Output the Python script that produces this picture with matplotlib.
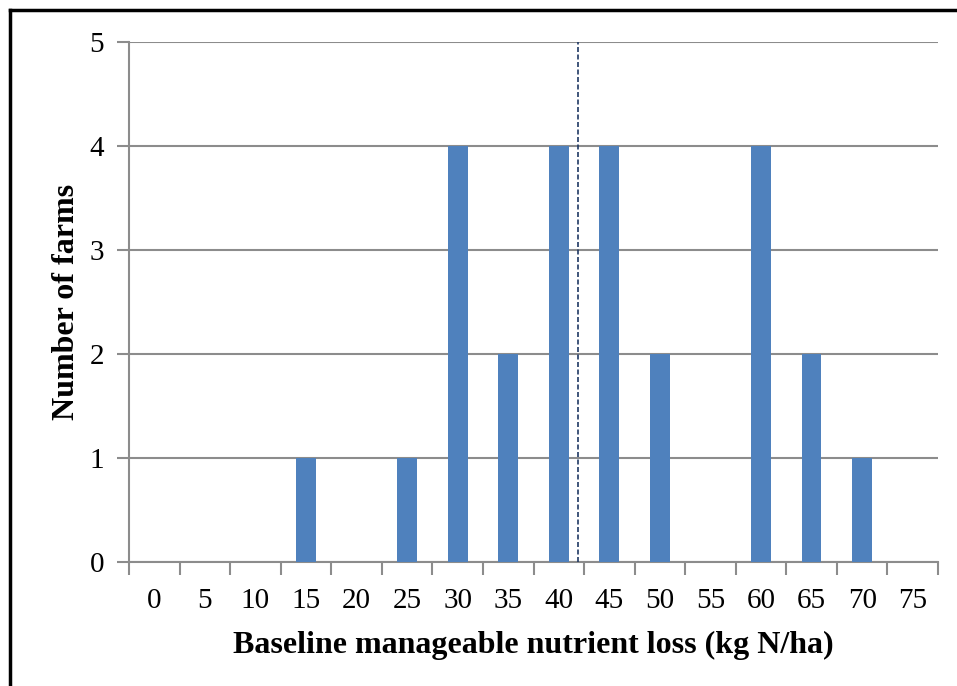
import matplotlib
matplotlib.use("Agg")
import matplotlib.pyplot as plt
from matplotlib.lines import Line2D
import numpy as np

# farm counts per 5 kg N/ha class
loss_classes = [0, 5, 10, 15, 20, 25, 30, 35, 40, 45, 50, 55, 60, 65, 70, 75]
farm_counts = [0, 0, 0, 1, 0, 1, 4, 2, 4, 4, 2, 0, 4, 2, 1, 0]
mean_loss = 41.9  # average baseline loss, shown as dashed line

plt.rcParams['font.family'] = ['Liberation Serif', 'DejaVu Serif']

fig = plt.figure(figsize=(9.57, 6.86), dpi=100)
ax = fig.add_axes([129/957, 1-562/686, (938-129)/957, (562-42)/686])

grid_col = '#8c8c8c'
x = np.arange(len(loss_classes))
ax.bar(x, farm_counts, width=0.39, color='#4f81bd', zorder=3)

# category axis: mean position in class units
ax.plot([mean_loss/5, mean_loss/5], [0, 5], ls=(0, (3, 1.5)), color='#1f3864',
        lw=1.2, zorder=4)

ax.set_xlim(-0.5, len(loss_classes)-0.5)
ax.set_ylim(0, 5)
ax.set_yticks(range(6))
ax.yaxis.grid(True, color=grid_col, lw=1.5, zorder=0)
ax.set_axisbelow(True)

ax.set_xticks(np.arange(-0.5, len(loss_classes)), labels=[])
ax.set_xticks(x, labels=[str(v) for v in loss_classes], minor=True)
ax.tick_params(axis='x', which='major', length=9, width=1.5, color=grid_col, direction='out')
ax.tick_params(axis='x', which='minor', length=0, pad=19, labelsize=21)
ax.tick_params(axis='y', length=9, width=1.5, color=grid_col, pad=9, labelsize=21)

for s in ['top', 'right']:
    ax.spines[s].set_visible(False)
for s in ['left', 'bottom']:
    ax.spines[s].set_color(grid_col)
    ax.spines[s].set_linewidth(1.5)

ax.set_xlabel('Baseline manageable nutrient loss (kg N/ha)', fontsize=23,
              fontweight='bold', labelpad=12)
ax.set_ylabel('Number of farms', fontsize=23, fontweight='bold', labelpad=6)

# outer chart frame
fig.add_artist(Line2D([10/957, 10/957], [0, 1-10/686], color='black', lw=2.5))
fig.add_artist(Line2D([10/957, 1], [1-10/686, 1-10/686], color='black', lw=2.5))

fig.savefig('out.png', dpi=100)
